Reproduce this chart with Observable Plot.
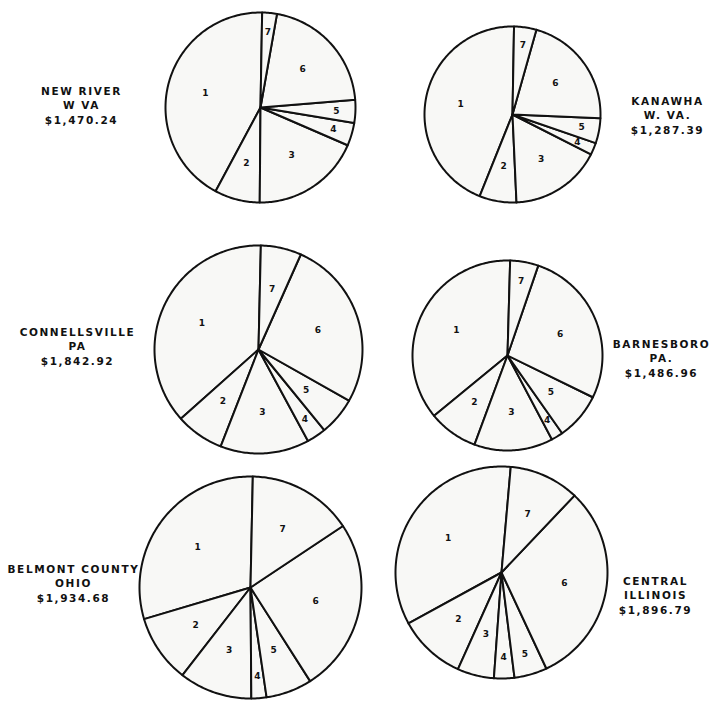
<!DOCTYPE html>
<html>
<head>
<meta charset="utf-8">
<script src="https://cdn.jsdelivr.net/npm/d3@7"></script>
<script src="https://cdn.jsdelivr.net/npm/@observablehq/plot@0.6"></script>
<style>
  html, body { margin: 0; padding: 0; background: #fff; }
  #chart svg { display: block; }
</style>
</head>
<body>
<div id="chart"></div>
<script>
// ---- data (share of total cost, %, slices 1..7) ----
const sliceLabels = ["1", "2", "3", "4", "5", "6", "7"];
const regionNames = ["NEW RIVER", "KANAWHA", "CONNELLSVILLE", "BARNESBORO", "BELMONT COUNTY", "CENTRAL"];
const regionStates = ["W VA", "W. VA.", "PA", "PA.", "OHIO", "ILLINOIS"];
const regionCosts = ["$1,470.24", "$1,287.39", "$1,842.92", "$1,486.96", "$1,934.68", "$1,896.79"];
const newRiver      = [42.4, 7.7, 18.6, 3.9, 3.9, 20.9, 2.5];
const kanawha       = [44.2, 6.8, 16.8, 2.2, 4.6, 21.3, 4.1];
const connellsville = [36.9, 7.5, 13.8, 3.0, 5.9, 26.5, 6.3];
const barnesboro    = [36.4, 8.4, 13.4, 2.0, 8.0, 27.0, 4.8];
const belmont       = [29.9, 9.9, 10.6, 2.2, 6.7, 25.3, 15.3];
const centralIll    = [34.4, 10.3, 5.6, 3.1, 5.0, 31.0, 10.7];
const allSeries = [newRiver, kanawha, connellsville, barnesboro, belmont, centralIll];

// ---- layout (pixel frame of the page) ----
const W = 711, H = 702;
const layout = [
  {cx: 260, cy: 107, r: 95,  lx: 81,  ly: 104, rot: 1},
  {cx: 512, cy: 114, r: 88,  lx: 667, ly: 114, rot: 1},
  {cx: 258, cy: 349, r: 104, lx: 77,  ly: 345, rot: 1.3},
  {cx: 507, cy: 355, r: 95,  lx: 661, ly: 357, rot: 1.6},
  {cx: 250, cy: 587, r: 111, lx: 73,  ly: 582, rot: 1.2},
  {cx: 501, cy: 572, r: 106, lx: 655, ly: 594, rot: 5}
];

const polys = [];
const numLabels = [];
const regionLabels = [];
allSeries.forEach((vals, p) => {
  const L = layout[p];
  const total = d3.sum(vals);
  let cum = 0;
  vals.forEach((v, i) => {
    const a1 = L.rot - cum / total * 360;       // degrees clockwise from 12 o'clock
    cum += v;
    const a0 = L.rot - cum / total * 360;
    const key = p + "-" + i;
    polys.push({key, x: L.cx, y: L.cy});
    const n = Math.max(2, Math.ceil((a1 - a0) / 1));
    for (let k = 0; k <= n; k++) {
      const a = (a0 + (a1 - a0) * k / n) * Math.PI / 180;
      polys.push({key, x: L.cx + L.r * Math.sin(a), y: L.cy - L.r * Math.cos(a)});
    }
    const span = a1 - a0;
    const m = ((a0 + a1) / 2) * Math.PI / 180;
    const lr = span < 20 ? 0.8 : 0.6;
    numLabels.push({x: L.cx + L.r * lr * Math.sin(m), y: L.cy - L.r * lr * Math.cos(m), t: sliceLabels[i]});
  });
  regionLabels.push({x: L.lx, y: L.ly, t: regionNames[p] + "\n" + regionStates[p] + "\n" + regionCosts[p]});
});

const chart = Plot.plot({
  width: W,
  height: H,
  margin: 0,
  x: {domain: [0, W], range: [0, W], axis: null},
  y: {domain: [0, H], range: [0, H], axis: null},
  style: {background: "#fff", fontFamily: "'DejaVu Sans', sans-serif"},
  marks: [
    Plot.line(polys, {x: "x", y: "y", z: "key", curve: "linear-closed",
      fill: "#f8f8f6", stroke: "#111", strokeWidth: 2, strokeLinejoin: "round"}),
    Plot.text(numLabels, {x: "x", y: "y", text: "t", fontSize: 9, fontWeight: "bold", fill: "#111"}),
    Plot.text(regionLabels, {x: "x", y: "y", text: "t", fontSize: 10.5, fontWeight: "bold",
      lineHeight: 1.4, textAnchor: "middle", fill: "#111"})
  ]
});
document.getElementById("chart").appendChild(chart);
d3.select(chart).selectAll("text")
  .filter(function () { return this.querySelector("tspan") !== null; })
  .style("letter-spacing", "1.6px");
</script>
</body>
</html>
